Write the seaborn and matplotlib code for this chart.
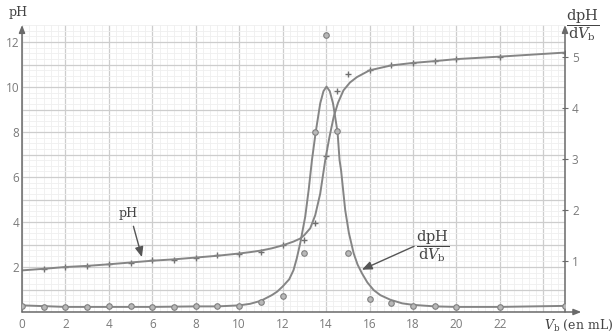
import numpy as np
import pandas as pd
import matplotlib
matplotlib.use("Agg")
import matplotlib.pyplot as plt
from matplotlib.ticker import MultipleLocator, FixedLocator, FuncFormatter
import seaborn as sns

# ---- data ----
v_ph_pts = [1, 2, 3, 4, 5, 6, 7, 8, 9, 10, 11, 12, 13, 13.5, 14, 14.5, 15, 16, 17, 18, 19, 20, 22, 25]
ph_pts = [1.90, 2.00, 2.03, 2.12, 2.18, 2.30, 2.33, 2.42, 2.52, 2.60, 2.67, 2.96, 3.19, 3.96, 6.92,
          9.82, 10.60, 10.77, 10.96, 11.07, 11.14, 11.26, 11.33, 11.53]

v_d_pts = [0, 1, 2, 3, 4, 5, 6, 7, 8, 9, 10, 11, 12, 13, 13.5, 14, 14.5, 15, 16, 17, 18, 19, 20, 22, 25]
d_pts = [0.12, 0.10, 0.09, 0.09, 0.12, 0.12, 0.10, 0.09, 0.12, 0.12, 0.12, 0.20, 0.31, 1.15, 3.52,
         5.43, 3.54, 1.15, 0.25, 0.17, 0.12, 0.12, 0.09, 0.09, 0.12]

# smooth curves
v_ph_curve = [0, 1, 2, 3, 4, 5, 6, 7, 8, 9, 10, 10.5, 11, 11.5, 12, 12.5, 12.8, 13.0, 13.27,
              13.5, 13.73, 13.96, 14.15, 14.35, 14.55, 14.8, 15.1, 15.42, 16, 17, 18, 19, 20, 22, 25]
ph_curve = [1.85, 1.92, 2.00, 2.05, 2.12, 2.20, 2.28, 2.34, 2.42, 2.50, 2.60, 2.66, 2.73, 2.83,
            2.96, 3.13, 3.26, 3.42, 3.72, 4.30, 5.26, 6.74, 7.75, 8.67, 9.30, 9.85, 10.20, 10.44,
            10.74, 10.96, 11.07, 11.15, 11.24, 11.35, 11.53]

v_d_curve = [0, 2, 4, 6, 8, 9, 10, 10.5, 11, 11.5, 11.75, 12.0, 12.3, 12.5, 12.65, 12.81, 13.04,
             13.2, 13.35, 13.52, 13.73, 13.88, 14.02, 14.17, 14.32, 14.53, 14.62, 14.69, 14.88,
             15.05, 15.27, 15.45, 15.65, 15.9, 16.19, 16.5, 16.96, 17.5, 18, 19, 20, 22, 25]
d_curve = [0.13, 0.10, 0.10, 0.10, 0.11, 0.11, 0.13, 0.16, 0.22, 0.33, 0.40, 0.50, 0.64, 0.82,
           1.05, 1.35, 1.87, 2.40, 2.98, 3.52, 4.09, 4.33, 4.42, 4.33, 4.09, 3.52, 2.98, 2.78,
           2.00, 1.55, 1.15, 0.93, 0.76, 0.58, 0.43, 0.33, 0.24, 0.17, 0.14, 0.11, 0.10, 0.10, 0.12]

x_ticks = [0, 2, 4, 6, 8, 10, 12, 14, 16, 18, 20, 22]
ph_ticks = [2, 4, 6, 8, 10, 12]
d_ticks = [1, 2, 3, 4, 5]

# ---- style ----
sns.set_style("white")
plt.rcParams['font.family'] = ['Open Sans', 'DejaVu Sans']
plt.rcParams['mathtext.fontset'] = 'dejavuserif'

LINE = '#858585'
AXC = '#6a6a6a'
TXT = '#7a7a7a'
SERIF = ['DejaVu Serif']

fig = plt.figure(figsize=(6.15, 3.36), dpi=100)
ax = fig.add_axes([22 / 615, 24 / 336, 543 / 615, 287 / 336])
ax2 = ax.twinx()

ax.set_xlim(0, 25)
ax.set_ylim(0, 287 / 22.5)
ax2.set_ylim(0, 287 / 51)

# millimetre-paper grid
ax.xaxis.set_major_locator(MultipleLocator(2))
ax.xaxis.set_minor_locator(MultipleLocator(1 / 3))
ax.yaxis.set_major_locator(MultipleLocator(1))
ax.yaxis.set_minor_locator(MultipleLocator(0.25))
ax.grid(which='major', color='#cdcdcd', lw=0.9)
ax.grid(which='minor', color='#efefef', lw=0.6)
ax.set_axisbelow(True)

ax.xaxis.set_major_formatter(FuncFormatter(lambda v, p: f"{int(round(v))}" if round(v) in x_ticks else ""))
ax.yaxis.set_major_formatter(FuncFormatter(lambda v, p: f"{int(round(v))}" if round(v) in ph_ticks and abs(v - round(v)) < 1e-6 else ""))
ax.tick_params(axis='both', which='both', length=0, labelsize=8.5, labelcolor=TXT)
ax.tick_params(axis='x', pad=4)
ax.tick_params(axis='y', pad=2)

ax2.yaxis.set_major_locator(FixedLocator(d_ticks))
ax2.tick_params(axis='y', direction='inout', length=4, width=0.8, color=AXC,
                labelsize=8.5, labelcolor=TXT, pad=3)
ax2.grid(False)

for a in (ax, ax2):
    for s in a.spines.values():
        s.set_visible(False)

# ---- data marks ----
df_ph_c = pd.DataFrame({'V': v_ph_curve, 'pH': ph_curve})
df_d_c = pd.DataFrame({'V': v_d_curve, 'd': d_curve})
df_ph = pd.DataFrame({'V': v_ph_pts, 'pH': ph_pts})
df_d = pd.DataFrame({'V': v_d_pts, 'd': d_pts})

sns.lineplot(data=df_ph_c, x='V', y='pH', ax=ax, color=LINE, lw=1.4, sort=False)
sns.scatterplot(data=df_ph, x='V', y='pH', ax=ax, marker='+', s=16, color='#707070', linewidth=1.0)
sns.lineplot(data=df_d_c, x='V', y='d', ax=ax2, color=LINE, lw=1.4, sort=False)
sns.scatterplot(data=df_d, x='V', y='d', ax=ax2, marker='o', s=16, color='#b8b8b8',
                edgecolor='#808080', linewidth=0.8, zorder=5)

ax.set_xlabel('')
ax.set_ylabel('')
ax2.set_ylabel('')

# ---- axes with arrows ----
arr = dict(arrowstyle='-|>,head_length=0.45,head_width=0.18', color=AXC, lw=1.1,
           shrinkA=0, shrinkB=0)
ax.annotate('', xy=(0, 1.0), xytext=(0, 0), xycoords='axes fraction', arrowprops=arr, annotation_clip=False)
ax.annotate('', xy=(1, 1.0), xytext=(1, 0), xycoords='axes fraction', arrowprops=arr, annotation_clip=False)
ax.annotate('', xy=(1.03, 0), xytext=(0, 0), xycoords='axes fraction', arrowprops=arr, annotation_clip=False)

# ---- labels ----
ax.text(-0.008, 1.045, 'pH', transform=ax.transAxes, ha='center', va='center',
        fontsize=9, family=SERIF, color='#444444')
ax.text(1.032, 1.0, r'$\dfrac{\mathrm{dpH}}{\mathrm{d}V_{\mathrm{b}}}$', transform=ax.transAxes,
        ha='center', va='center', fontsize=10.5, color='#444444')
ax.text(1.026, -0.045, r'$V_{\mathrm{b}}$ (en mL)', transform=ax.transAxes, ha='center',
        va='center', fontsize=9, family=SERIF, color='#444444')

# curve annotations
ax.text(4.9, 4.4, 'pH', ha='center', va='center', fontsize=9, family=SERIF, color='#444444')
ax.annotate('', xy=(5.52, 2.44), xytext=(5.13, 3.81),
            arrowprops=dict(arrowstyle='-|>,head_length=0.6,head_width=0.25', color='#555555',
                            lw=1.0, shrinkA=0, shrinkB=0))
ax.text(18.9, 2.92, r'$\dfrac{\mathrm{dpH}}{\mathrm{d}V_{\mathrm{b}}}$', ha='center', va='center',
        fontsize=10.5, color='#444444')
ax.annotate('', xy=(15.65, 1.88), xytext=(18.05, 2.92),
            arrowprops=dict(arrowstyle='-|>,head_length=0.6,head_width=0.25', color='#555555',
                            lw=1.0, shrinkA=0, shrinkB=0))

fig.savefig('out.png', dpi=100, facecolor='white')
